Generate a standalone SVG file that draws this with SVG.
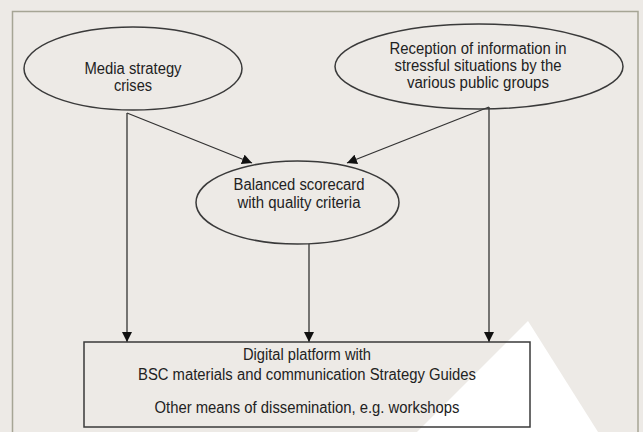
<svg xmlns="http://www.w3.org/2000/svg" width="643" height="432" viewBox="0 0 643 432">
<style>
.n{fill:none;stroke:#3a3a3a;stroke-width:1.5}
.c{fill:none;stroke:#333;stroke-width:1.3}
text{font-family:"Liberation Sans",Arial,sans-serif;font-size:16px;fill:#222;text-anchor:middle}
</style>
<defs>
<marker id="ah" viewBox="0 0 10 10" refX="10" refY="5" markerWidth="10" markerHeight="10" markerUnits="userSpaceOnUse" orient="auto">
<path d="M0,0 L10,5 L0,10 Z" fill="#111"/>
</marker>
</defs>
<rect x="0" y="0" width="643" height="432" fill="#edeae6"/>
<rect x="12.5" y="11.5" width="625.5" height="430" fill="none" stroke="#a6a595" stroke-width="1.5"/>
<polygon points="528,321 598,432 417,432" fill="#ffffff"/>
<g id="connectors">
<line class="c" x1="127" y1="113" x2="127" y2="342" marker-end="url(#ah)"/>
<line class="c" x1="127" y1="113" x2="252" y2="163" marker-end="url(#ah)"/>
<line class="c" x1="489" y1="107" x2="489" y2="342" marker-end="url(#ah)"/>
<line class="c" x1="489" y1="107" x2="347" y2="163" marker-end="url(#ah)"/>
<line class="c" x1="309" y1="244" x2="309" y2="342" marker-end="url(#ah)"/>
</g>
<g id="media">
<ellipse class="n" cx="133" cy="68.5" rx="109" ry="41.5"/>
<text x="133" y="74" textLength="97" lengthAdjust="spacingAndGlyphs">Media strategy</text>
<text x="133" y="91" textLength="38" lengthAdjust="spacingAndGlyphs">crises</text>
</g>
<g id="reception">
<ellipse class="n" cx="479" cy="66.5" rx="144" ry="42.5"/>
<text x="478" y="54" textLength="177" lengthAdjust="spacingAndGlyphs">Reception of information in</text>
<text x="478" y="71" textLength="167" lengthAdjust="spacingAndGlyphs">stressful situations by the</text>
<text x="478" y="88" textLength="142" lengthAdjust="spacingAndGlyphs">various public groups</text>
</g>
<g id="bsc">
<ellipse class="n" cx="297.5" cy="202.5" rx="101.5" ry="41.5"/>
<text x="299" y="190" textLength="131" lengthAdjust="spacingAndGlyphs">Balanced scorecard</text>
<text x="299" y="208" textLength="123" lengthAdjust="spacingAndGlyphs">with quality criteria</text>
</g>
<g id="platform">
<rect class="n" x="84" y="342" width="446" height="85"/>
<text x="307" y="360" textLength="128" lengthAdjust="spacingAndGlyphs">Digital platform with</text>
<text x="307" y="380" textLength="338" lengthAdjust="spacingAndGlyphs">BSC materials and communication Strategy Guides</text>
<text x="307" y="413" textLength="305" lengthAdjust="spacingAndGlyphs">Other means of dissemination, e.g. workshops</text>
</g>
</svg>
